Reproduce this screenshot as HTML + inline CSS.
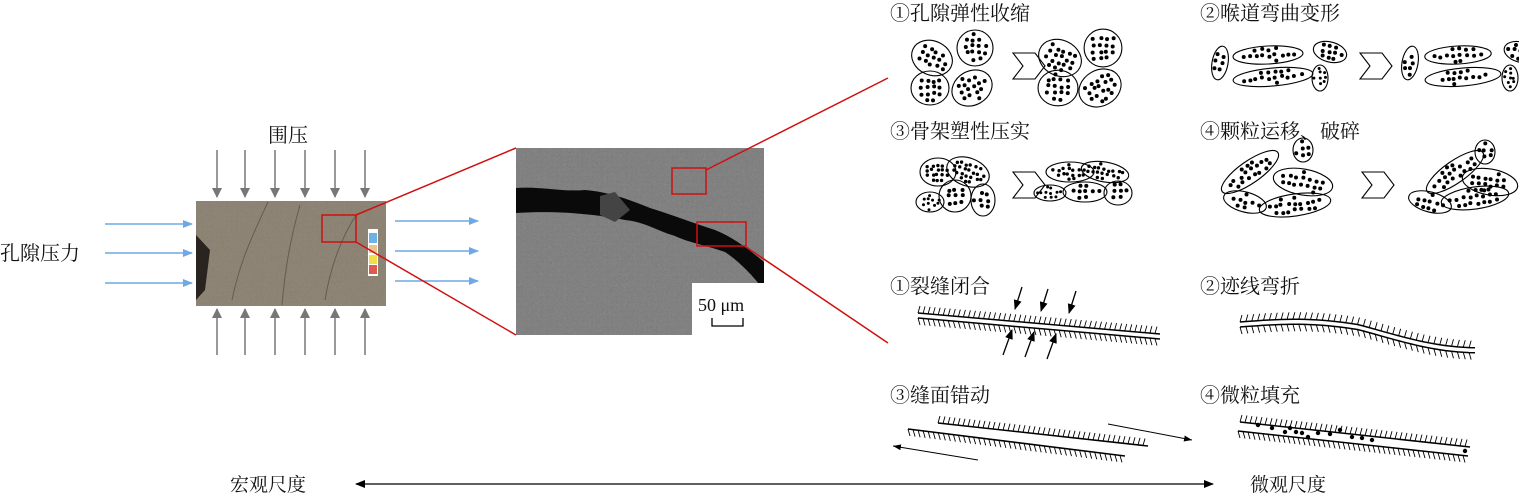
<!DOCTYPE html>
<html><head><meta charset="utf-8"><style>
body{margin:0;background:#fff;}
svg text{font-family:"Liberation Serif","Noto Serif CJK SC","Noto Sans CJK SC",serif;fill:#111;}
</style></head><body>
<svg id="s" width="1519" height="498" xmlns="http://www.w3.org/2000/svg">
<defs>
<marker id="ab" markerWidth="10" markerHeight="8" refX="9" refY="4" orient="auto" markerUnits="userSpaceOnUse"><path d="M0,0 L10,4 L0,8 Z" fill="#6fa8e6"/></marker>
<marker id="ag" markerWidth="10" markerHeight="10" refX="9" refY="5" orient="auto" markerUnits="userSpaceOnUse"><path d="M0,0 L10,5 L0,10 Z" fill="#777"/></marker>
<marker id="ak" markerWidth="10" markerHeight="8" refX="9" refY="4" orient="auto" markerUnits="userSpaceOnUse"><path d="M0,0 L10,4 L0,8 Z" fill="#000"/></marker>
<marker id="as" markerWidth="8" markerHeight="6" refX="8" refY="3" orient="auto" markerUnits="userSpaceOnUse"><path d="M0,0 L8,3 L0,6 Z" fill="#000"/></marker>
<marker id="ak2" markerWidth="10" markerHeight="8" refX="1" refY="4" orient="auto" markerUnits="userSpaceOnUse"><path d="M10,0 L0,4 L10,8 Z" fill="#000"/></marker>
<filter id="noise" x="0" y="0" width="1" height="1"><feTurbulence baseFrequency="0.9" numOctaves="2" seed="3"/><feColorMatrix type="saturate" values="0"/></filter>
</defs>
<text x="268" y="142" font-size="20">围压</text>
<text x="0" y="260" font-size="20">孔隙压力</text>
<!-- core -->
<rect x="196" y="201" width="190" height="105" fill="#8d8373"/>
<rect x="196" y="201" width="190" height="105" filter="url(#noise)" opacity="0.3"/>
<path d="M196,235 L210,250 L205,290 L196,300Z" fill="#2a2420"/>
<g stroke="#5a5248" stroke-width="1" fill="none" opacity="0.8"><path d="M268,202 C255,230 240,260 232,300"/><path d="M300,205 C290,240 285,270 282,305"/><path d="M356,215 C340,240 330,270 325,300"/></g>
<rect x="368" y="229" width="10" height="47" fill="#fff"/>
<rect x="369" y="233" width="8" height="10" fill="#6cb3e3"/><rect x="369" y="245" width="8" height="8" fill="#e9c48f"/><rect x="369" y="255" width="8" height="9" fill="#efe04a"/><rect x="369" y="265" width="8" height="9" fill="#e05a4e"/>
<rect x="322" y="215" width="34" height="27" fill="none" stroke="#d01010" stroke-width="1.5"/>
<g stroke="#777" stroke-width="1.5" marker-end="url(#ag)" id="ga"></g>
<g stroke="#6fa8e6" stroke-width="1.5" marker-end="url(#ab)">
<line x1="105" y1="224" x2="192" y2="224"/><line x1="105" y1="253" x2="192" y2="253"/><line x1="105" y1="283" x2="192" y2="283"/>
<line x1="395" y1="221" x2="478" y2="221"/><line x1="395" y1="251" x2="478" y2="251"/><line x1="395" y1="281" x2="478" y2="281"/>
</g>
<!-- SEM -->
<rect x="516" y="148" width="248" height="187" fill="#808080"/>
<rect x="516" y="148" width="248" height="187" filter="url(#noise)" opacity="0.45"/>
<path d="M516,188 C540,186 560,192 585,190 C610,192 630,200 650,208 C670,214 690,222 715,230 C735,238 752,252 764,262 L764,290 C752,275 740,262 725,252 C705,245 690,243 675,236 C655,230 645,222 625,220 C600,215 560,210 516,213Z" fill="#0a0a0a"/>
<path d="M600,196 L615,192 L630,210 L615,222 L600,215Z" fill="#444"/>
<rect x="692" y="283" width="72" height="52" fill="#fff"/>
<text x="698" y="311" font-size="18">50 μm</text>
<path d="M712,318 V326 H743 V318" fill="none" stroke="#000" stroke-width="1.3"/>
<rect x="672" y="168" width="34" height="26" fill="none" stroke="#d01010" stroke-width="1.5"/>
<rect x="697" y="222" width="49" height="24" fill="none" stroke="#d01010" stroke-width="1.5"/>
<g stroke="#d01010" stroke-width="1.5">
<line x1="356" y1="215" x2="516" y2="148"/><line x1="356" y1="242" x2="516" y2="335"/>
<line x1="706" y1="170" x2="888" y2="78"/><line x1="746" y1="247" x2="888" y2="343"/>
</g>
<g font-size="20">
<text x="890" y="20">①孔隙弹性收缩</text><text x="1200" y="20">②喉道弯曲变形</text>
<text x="890" y="138">③骨架塑性压实</text><text x="1200" y="138">④颗粒运移、破碎</text>
<text x="890" y="293">①裂缝闭合</text><text x="1200" y="293">②迹线弯折</text>
<text x="890" y="402">③缝面错动</text><text x="1200" y="402">④微粒填充</text>
<text x="230" y="491" font-size="19">宏观尺度</text><text x="1250" y="491" font-size="19">微观尺度</text>
</g>
<line x1="356" y1="484" x2="1213" y2="484" stroke="#000" stroke-width="1.3" marker-end="url(#ak)" marker-start="url(#ak2)"/>
<g id="d" fill="none" stroke="#000" stroke-width="1.1"></g>
</svg>
<script>
var d=document.getElementById('d'),ga=document.getElementById('ga'),NS='http://www.w3.org/2000/svg';
function el(p,t,a){var e=document.createElementNS(NS,t);for(var k in a)e.setAttribute(k,a[k]);p.appendChild(e);return e;}
var xs=[217,245,275,305,335,365];
xs.forEach(function(x){el(ga,'line',{x1:x,y1:150,x2:x,y2:197});el(ga,'line',{x1:x,y1:355,x2:x,y2:309});});
var seed=7;function r(){seed=(seed*9301+49297)%233280;return seed/233280;}
function grain(cx,cy,rx,ry,rot,n,ds){
 el(d,'ellipse',{cx:cx,cy:cy,rx:rx,ry:ry,transform:'rotate('+rot+' '+cx+' '+cy+')'});
 var a=rot*Math.PI/180,sp=ds&&ds<1.8?5:6.5;
 for(var x=-rx;x<=rx;x+=sp)for(var y=-ry;y<=ry;y+=sp){
  var xx=x+(r()-0.5)*2.5+sp/2,yy=y+(r()-0.5)*2.5+sp/2;
  if((xx*xx)/(rx*rx)+(yy*yy)/(ry*ry)>0.6)continue;
  el(d,'circle',{cx:cx+xx*Math.cos(a)-yy*Math.sin(a),cy:cy+xx*Math.sin(a)+yy*Math.cos(a),r:ds||2,fill:'#000',stroke:'none'});}
}
function chev(x,y){el(d,'path',{d:'M'+x+','+y+' h22 l10,13 l-10,13 h-22 l10,-13z'});}
[[0,0],[128,0]].forEach(function(o){var k=o[0]?1.05:1;
grain(932+o[0],58,21*k,17*k,25,13);grain(975+o[0],48,18*k,18*k,0,12);grain(930+o[0],88,19*k,17*k,0,14);grain(972+o[0],88,21*k,17*k,-30,13);});
chev(1013,53);
function g2(ox,s){grain(1220+ox,63,8,17,10,8);grain(1268+ox,55,35*s,9,-3,10);grain(1330+ox,52,17*s,10,15,6);
grain(1273+ox,77,40*s,9,-5,10);grain(1320+ox,78,8,13,0,8,1.5);}
g2(0,1);g2(190,0.95);chev(1360,53);
grain(938,172,18,14,0,12,1.7);grain(968,172,22,14,20,12,1.7);grain(930,202,14,10,0,9,1.5);grain(955,196,16,16,0,10);grain(983,200,12,16,0,9);
grain(1070,172,24,10,0,12,1.7);grain(1105,172,24,10,10,10,1.7);grain(1050,193,16,8,0,8,1.5);grain(1085,192,22,10,0,10);grain(1118,193,14,12,0,8);
chev(1013,172);
grain(1250,172,34,11,-35,12);grain(1303,150,10,12,0,5);grain(1303,182,30,13,10,12);grain(1295,205,36,11,-8,12);grain(1245,202,22,10,15,8);
grain(1430,202,22,10,15,8);grain(1455,172,34,11,-35,12);grain(1485,152,10,12,0,5);grain(1490,182,28,13,10,12);grain(1475,198,34,11,-8,12);
chev(1362,172);
function pl(pts){return pts.map(function(p){return p.join(',')}).join(' ');}
function hl(pts,side,step){el(d,'polyline',{points:pl(pts),'stroke-width':1.5});
 for(var i=0;i<pts.length-1;i++){var a=pts[i],b=pts[i+1],dx=b[0]-a[0],dy=b[1]-a[1],L=Math.hypot(dx,dy),n=Math.floor(L/step);
  for(var j=0;j<n;j++){var x=a[0]+dx*j/n,y=a[1]+dy*j/n;el(d,'line',{x1:x,y1:y,x2:x+2,y2:y+side*7,'stroke-width':0.9});}}}
hl([[918,313],[1160,334]],-1,5);hl([[918,318],[1160,339]],1,5);
[[1022,287,1015,309],[1048,289,1041,311],[1076,291,1069,313]].forEach(function(a){el(d,'line',{x1:a[0],y1:a[1],x2:a[2],y2:a[3],'stroke-width':1.3,'marker-end':'url(#ak)'});});
[[1003,355,1012,330],[1025,357,1034,332],[1047,359,1056,334]].forEach(function(a){el(d,'line',{x1:a[0],y1:a[1],x2:a[2],y2:a[3],'stroke-width':1.3,'marker-end':'url(#ak)'});});
var w=[];for(var t=0;t<=40;t++){var x=1240+t*235/40;w.push([x,322+12*(t/40)-6*Math.sin(t/40*Math.PI*1.6)+ (t>20?8*Math.sin((t-20)/20*Math.PI/2):0)]);}
hl(w,-1,5);hl(w.map(function(p){return[p[0],p[1]+5]}),1,5);
hl([[938,423],[1148,446]],-1,5);hl([[908,429],[1125,456]],1,5);
el(d,'line',{x1:1108,y1:424,x2:1192,y2:440,'stroke-width':1,'marker-end':'url(#as)'});
el(d,'line',{x1:978,y1:460,x2:893,y2:446,'stroke-width':1,'marker-end':'url(#as)'});
hl([[1240,422],[1470,447]],-1,5);hl([[1238,431],[1468,456]],1,5);
[[1258,425],[1272,428],[1285,432],[1290,428],[1296,432],[1302,433],[1308,437],[1318,433],[1330,434],[1340,430],[1352,437],[1362,438],[1372,440],[1465,451]].forEach(function(p){el(d,'circle',{cx:p[0],cy:p[1],r:2.2,fill:'#000',stroke:'none'});});
</script>
</body></html>
